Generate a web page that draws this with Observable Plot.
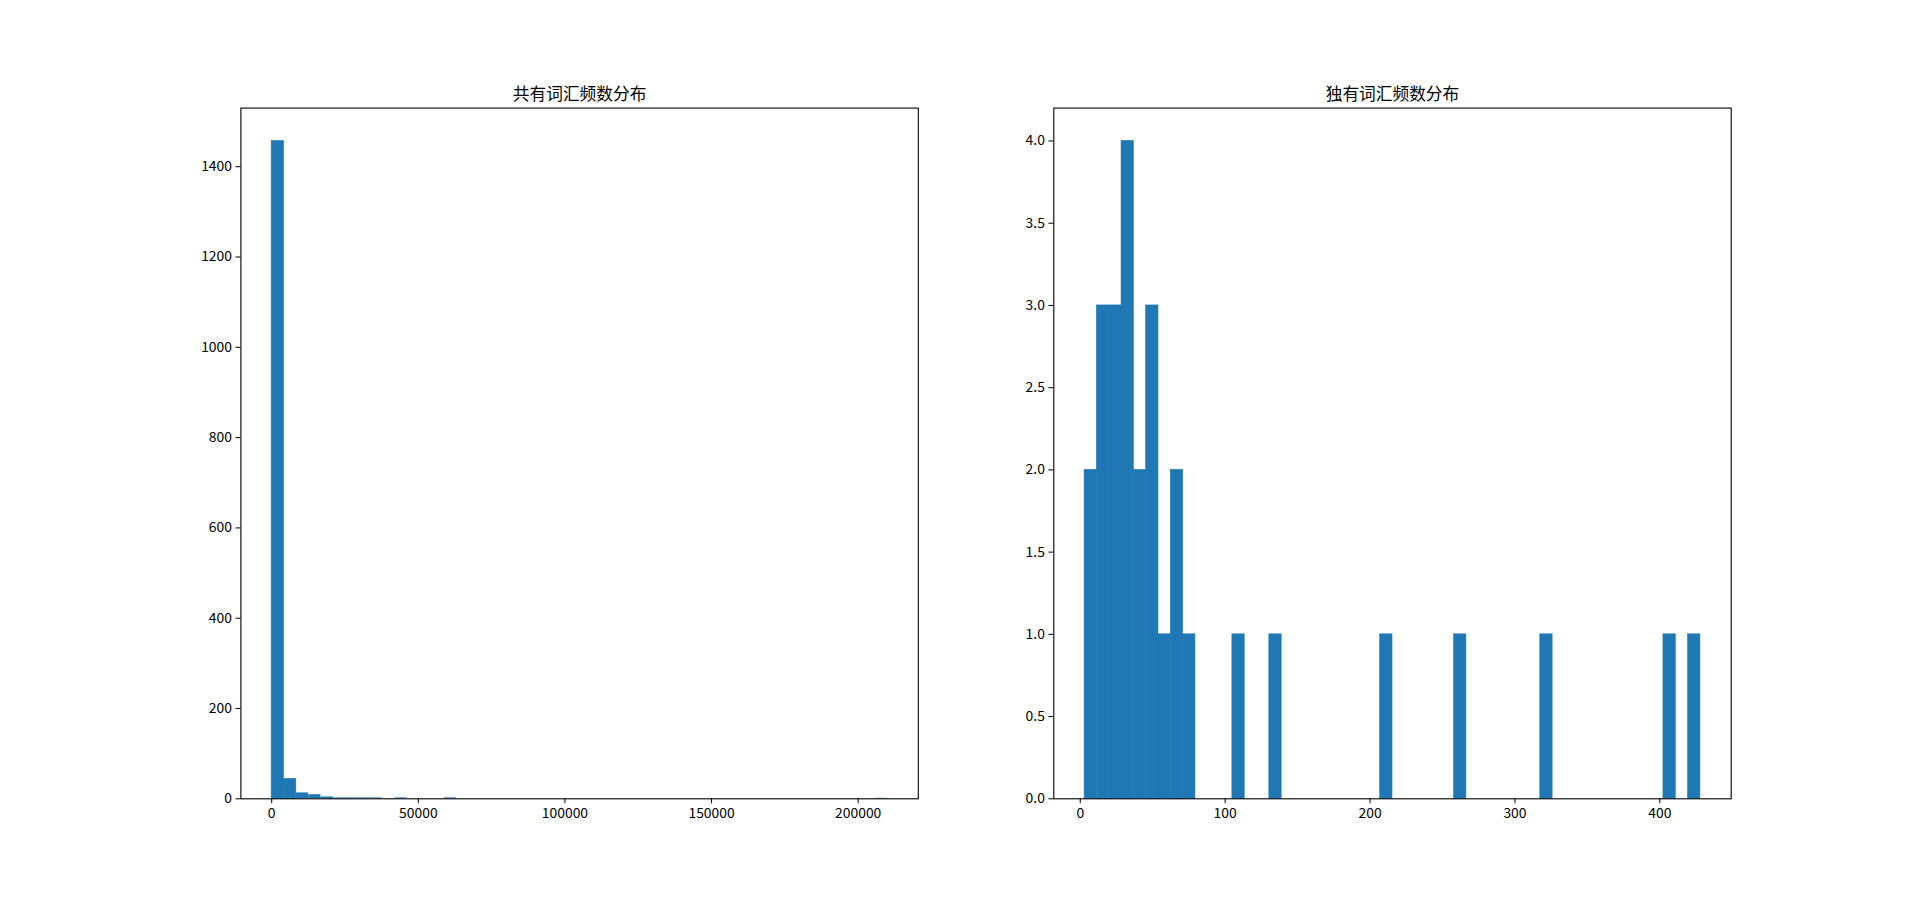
<!DOCTYPE html>
<html><head><meta charset="utf-8">
<script src="https://cdn.jsdelivr.net/npm/d3@7"></script>
<script src="https://cdn.jsdelivr.net/npm/@observablehq/plot@0.6"></script>
<style>
body{margin:0;background:#fff;}
#wrap{position:relative;width:1923px;height:897px;overflow:hidden;}
#wrap svg{position:absolute;top:0;}
</style></head><body><div id="wrap"></div>
<script>
const titles = ["共有词汇频数分布", "独有词汇频数分布"];

// shared vocabulary: 50 histogram bins between min and max frequency
const sharedMin = 1, sharedMax = 210000;
const sharedCounts = [1457, 44, 13, 9, 4, 2, 2, 2, 2, 0,
                      2, 0, 0, 0, 2, 0, 0, 0, 0, 0,
                      0, 0, 0, 0, 0, 0, 0, 0, 0, 0,
                      0, 0, 0, 0, 0, 0, 0, 0, 0, 0,
                      0, 0, 0, 0, 0, 0, 0, 0, 0, 1];
const sharedXTicks = [0, 50000, 100000, 150000, 200000];
const sharedYTicks = [0, 200, 400, 600, 800, 1000, 1200, 1400];

// unique vocabulary: 50 histogram bins
const uniqueMin = 3, uniqueMax = 428;
const uniqueCounts = [2, 3, 3, 4, 2, 3, 1, 2, 1, 0,
                      0, 0, 1, 0, 0, 1, 0, 0, 0, 0,
                      0, 0, 0, 0, 1, 0, 0, 0, 0, 0,
                      1, 0, 0, 0, 0, 0, 0, 1, 0, 0,
                      0, 0, 0, 0, 0, 0, 0, 1, 0, 1];
const uniqueXTicks = [0, 100, 200, 300, 400];
const uniqueYTicks = [0, 0.5, 1, 1.5, 2, 2.5, 3, 3.5, 4];

const FONT = "'Noto Sans CJK SC', 'DejaVu Sans', sans-serif";

function panel({counts, min, max, xTicks, yTicks, yFmt, title, left, width, mL, mR}) {
  const n = counts.length, w = (max - min) / n, R = max - min;
  const bins = counts.map((c, i) => ({x1: min + i * w, x2: min + (i + 1) * w, count: c})).filter(d => d.count > 0);
  const ymax = d3.max(counts) * 1.05;
  const p = Plot.plot({
    width, height: 897,
    marginLeft: mL, marginRight: mR, marginTop: 107.6, marginBottom: 98.7,
    style: {fontFamily: FONT, fontSize: "13.9px", color: "#000", background: "transparent"},
    x: {domain: [min - 0.05 * R, max + 0.05 * R], ticks: xTicks, tickFormat: d3.format("d"), tickSize: 4.9, tickPadding: 4, label: null},
    y: {domain: [0, ymax], ticks: yTicks, tickFormat: yFmt, tickSize: 4.9, tickPadding: 4, label: null},
    marks: [
      Plot.rect(bins, {x1: "x1", x2: "x2", y1: 0, y2: "count", fill: "#1f77b4",
        stroke: d => (d.count / ymax > 0.01 ? "#1f77b4" : "none"), strokeWidth: 0.6, inset: 0}),
      Plot.frame({stroke: "#000", strokeWidth: 1.1}),
      Plot.text([title], {frameAnchor: "top", dy: -8.3, lineAnchor: "bottom", fontSize: 16.7, text: d => d, fill: "#000"})
    ]
  });
  p.style.left = left + "px";
  document.getElementById("wrap").appendChild(p);
}

panel({counts: sharedCounts, min: sharedMin, max: sharedMax, xTicks: sharedXTicks, yTicks: sharedYTicks,
       yFmt: d3.format("d"), title: titles[0], left: 0, width: 961, mL: 240.4, mR: 43.2});
panel({counts: uniqueCounts, min: uniqueMin, max: uniqueMax, xTicks: uniqueXTicks, yTicks: uniqueYTicks,
       yFmt: d3.format(".1f"), title: titles[1], left: 961, width: 962, mL: 92.3, mR: 192.3});
</script></body></html>
